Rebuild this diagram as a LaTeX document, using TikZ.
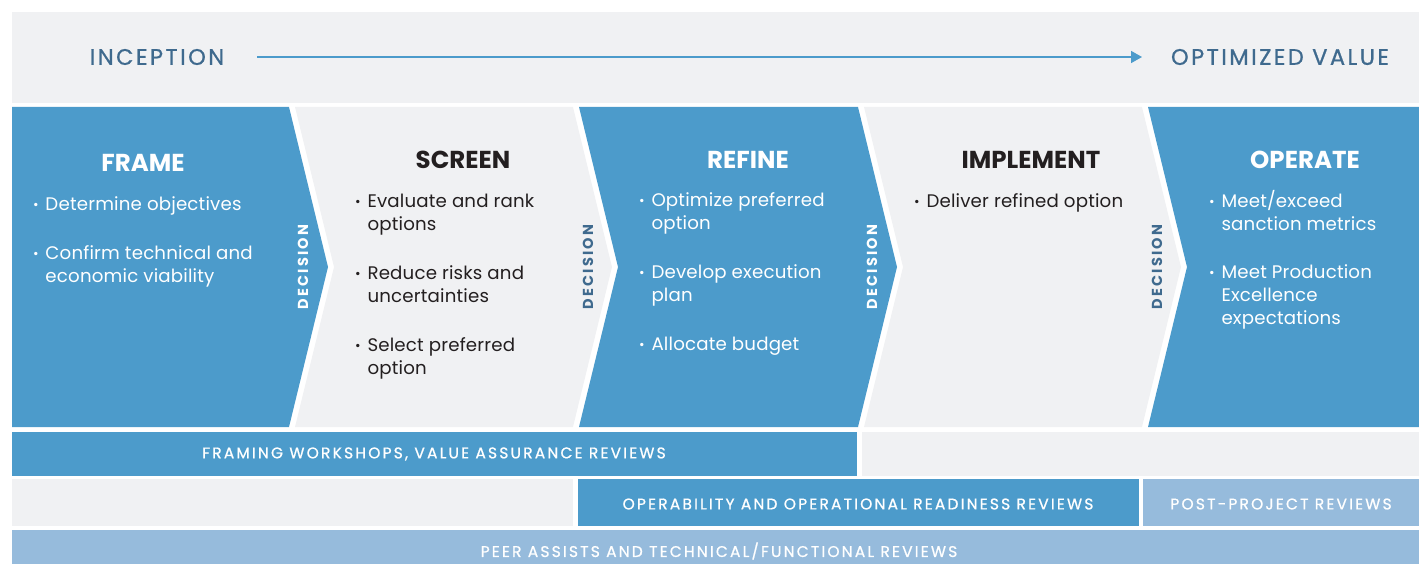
\documentclass[tikz,border=0pt]{standalone}
\usepackage{fontspec}
\setmainfont{Poppins}
\newfontfamily\topfont[LetterSpace=11,FakeBold=0.8]{Poppins}
\newfontfamily\barfont[LetterSpace=14,FakeBold=0.8]{Poppins}
\newfontfamily\decfont[LetterSpace=15]{Poppins}
\newfontfamily\bodyfont[LetterSpace=1]{Poppins}
\usetikzlibrary{arrows.meta}
\definecolor{cblue}{HTML}{4C9BCB}
\definecolor{clight}{HTML}{96BBDC}
\definecolor{cgray}{HTML}{F0F1F3}
\definecolor{cdark}{HTML}{3F6A8E}
\definecolor{ctext}{HTML}{231F20}
\newcommand\bul{\strut\makebox[12.5pt][l]{\raisebox{1pt}{\fontsize{13.5}{12}\selectfont •}}}
\newcommand\ind{\strut\hspace*{12.5pt}}
\tikzset{
  x=1pt, y=-1pt,
  every node/.style={inner sep=0pt, outer sep=0pt},
  item/.style={anchor=north west, align=left, font=\fontsize{18.2}{22.8}\selectfont\bodyfont, yshift=8.5pt},
  head/.style={font=\fontsize{24.5}{26}\selectfont\bfseries},
  decision/.style={rotate=90, font=\fontsize{14.5}{15}\selectfont\decfont\bfseries},
  bartext/.style={font=\fontsize{15.5}{17}\selectfont\barfont, text=white},
  toptext/.style={font=\fontsize{22.5}{24}\selectfont\topfont, text=cdark},
  flow/.style={draw=cblue, line width=1.6pt, -{Triangle[length=11pt,width=12pt]}}
}
\begin{document}
\begin{tikzpicture}
\useasboundingbox (0,0) rectangle (1419,564);
% top band
\fill[cgray] (12,12) rectangle (1419,103);
\node[toptext] (inc) at (157,57) {INCEPTION};
\node[toptext] (opt) at (1280,57) {OPTIMIZED VALUE};
\coordinate (a0) at (257,57);
\coordinate (a1) at (1142,57);
\draw[flow] (a0) -- (a1);
% chevrons
\fill[cblue] (12,107) -- (289,107) -- (328,267) -- (289,427) -- (12,427) -- cycle;
\fill[cgray] (295,107) -- (573,107) -- (612,267) -- (573,427) -- (295,427) -- (334,267) -- cycle;
\fill[cblue] (579,107) -- (858,107) -- (897,267) -- (858,427) -- (579,427) -- (618,267) -- cycle;
\fill[cgray] (864,107) -- (1142,107) -- (1181,267) -- (1142,427) -- (864,427) -- (903,267) -- cycle;
\fill[cblue] (1148,107) -- (1419,107) -- (1419,427) -- (1148,427) -- (1187,267) -- cycle;
% headings
\node[head, text=white] (hframe) at (143,163) {FRAME};
\node[head, text=ctext] (hscreen) at (463,160) {SCREEN};
\node[head, text=white] (hrefine) at (748,160) {REFINE};
\node[head, text=ctext] (himpl) at (1031,160) {IMPLEMENT};
\node[head, text=white] (hop) at (1305,160) {OPERATE};
% bullets
\node[item, text=white] (f1) at (33,203) {\bul Determine objectives};
\node[item, text=white] (f2) at (33,252) {\bul Confirm technical and\\\ind economic viability};
\node[item, text=ctext] (s1) at (355,200) {\bul Evaluate and rank\\\ind options};
\node[item, text=ctext] (s2) at (355,272) {\bul Reduce risks and\\\ind uncertainties};
\node[item, text=ctext] (s3) at (355,344) {\bul Select preferred\\\ind option};
\node[item, text=white] (r1) at (639,199) {\bul Optimize preferred\\\ind option};
\node[item, text=white] (r2) at (639,271) {\bul Develop execution\\\ind plan};
\node[item, text=white] (r3) at (639,343) {\bul Allocate budget};
\node[item, text=ctext] (i1) at (914,200) {\bul Deliver refined option};
\node[item, text=white] (o1) at (1209,199) {\bul Meet/exceed\\\ind sanction metrics};
\node[item, text=white] (o2) at (1209,271) {\bul Meet Production\\\ind Excellence\\\ind expectations};
% decisions
\node[decision, text=white] (d1) at (303,267) {DECISION};
\node[decision, text=cdark] (d2) at (588,267) {DECISION};
\node[decision, text=white] (d3) at (872,267) {DECISION};
\node[decision, text=cdark] (d4) at (1157,267) {DECISION};
% bottom bars
\fill[cblue] (12,432) rectangle (857,476);
\fill[cgray] (862,432) rectangle (1419,476);
\node[bartext] (b1) at (434,454) {FRAMING WORKSHOPS, VALUE ASSURANCE REVIEWS};
\fill[cgray] (12,479) rectangle (573,526);
\fill[cblue] (578,479) rectangle (1139,526);
\fill[clight] (1143,479) rectangle (1419,526);
\node[bartext] (b2) at (858,504) {OPERABILITY AND OPERATIONAL READINESS REVIEWS};
\node[bartext] (b3) at (1281,504) {POST-PROJECT REVIEWS};
\fill[clight] (12,530) rectangle (1419,564);
\node[bartext] (b4) at (719,551) {PEER ASSISTS AND TECHNICAL/FUNCTIONAL REVIEWS};
\end{tikzpicture}
\end{document}
